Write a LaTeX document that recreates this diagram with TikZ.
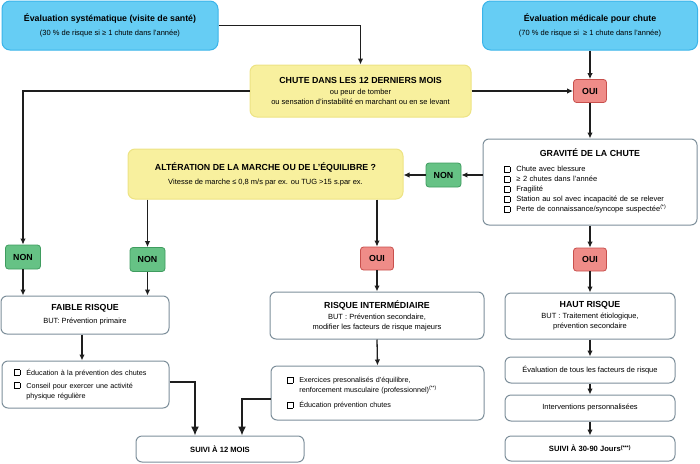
\documentclass[tikz,border=0pt]{standalone}
\usepackage{fontspec}
\setmainfont{Liberation Sans}
\usetikzlibrary{arrows.meta}

\definecolor{bleufill}{HTML}{66CDF4}
\definecolor{bleuline}{HTML}{3AB4EA}
\definecolor{jaunefill}{HTML}{F8F09E}
\definecolor{jauneline}{HTML}{EDE384}
\definecolor{vertfill}{HTML}{66C285}
\definecolor{vertline}{HTML}{3F9C5F}
\definecolor{rougefill}{HTML}{EF8C88}
\definecolor{rougeline}{HTML}{C8504D}
\definecolor{grisline}{HTML}{7D8F9B}
\definecolor{trait}{HTML}{1E1E1E}

\newcommand{\cbox}{{\fboxsep=0pt\fboxrule=0.7pt\fbox{\rule{0pt}{5pt}\hspace{5pt}}}}
\newcommand{\titre}{\fontsize{8.8}{10}\selectfont\bfseries}
\newcommand{\petit}{\fontsize{7.5}{10}\selectfont}
\newcommand{\liste}{\fontsize{7.2}{10}\selectfont}

\tikzset{
  bleu/.style={draw=bleuline, fill=bleufill, line width=1pt, rounded corners=8pt,
    align=center, inner sep=0pt, font=\petit},
  jaune/.style={draw=jauneline, fill=jaunefill, line width=1pt, rounded corners=7pt,
    align=center, inner sep=0pt, font=\petit},
  blanc/.style={draw=grisline, fill=white, line width=1pt, rounded corners=6pt,
    align=center, inner sep=0pt, font=\petit},
  oui/.style={draw=rougeline, fill=rougefill, line width=0.8pt, rounded corners=3pt,
    font=\titre, minimum width=33pt, minimum height=23pt, inner sep=0pt},
  non/.style={draw=vertline, fill=vertfill, line width=0.8pt, rounded corners=3pt,
    font=\titre, minimum width=35pt, minimum height=24pt, inner sep=0pt},
  fleche/.style={draw=trait, line width=1.3pt, -{Latex[length=6pt,width=5.5pt]}},
  grandefleche/.style={draw=trait, line width=1.4pt, -{Latex[length=9pt,width=8pt]}},
}

\begin{document}
\begin{tikzpicture}[x=1pt,y=-1pt]
\useasboundingbox (0,0) rectangle (700,463);

% haut
\node[bleu, minimum width=216pt, minimum height=49pt] (evalsys) at (110,25.5)
  {{\titre Évaluation systématique (visite de santé)}\\[4pt](30 \% de risque si ≥ 1 chute dans l’année)};
\node[bleu, minimum width=215pt, minimum height=49pt] (evalmed) at (590,25.5)
  {{\titre Évaluation médicale pour chute}\\[4pt](70 \% de risque si \ ≥ 1 chute dans l’année)};
\node[jaune, minimum width=221pt, minimum height=52pt] (chute) at (360.5,91)
  {{\titre CHUTE DANS LES 12 DERNIERS MOIS}\\[1pt]ou peur de tomber\\ou sensation d’instabilité en marchant ou en se levant};
\node[oui] (ouihaut) at (590,91) {OUI};

% gravite
\node[blanc, minimum width=214pt, minimum height=86pt, text width=172pt, align=left] (gravite) at (590,182)
  {\makebox[172pt][c]{\titre GRAVITÉ DE LA CHUTE}\\[7pt]
   \begin{tabular}{@{}l@{\hspace{6pt}}l@{}}
   \cbox & Chute avec blessure\\
   \cbox & ≥ 2 chutes dans l’année\\
   \cbox & Fragilité\\
   \cbox & Station au sol avec incapacité de se relever\\
   \cbox & Perte de connaissance/syncope suspectée\textsuperscript{(*)}
   \end{tabular}};
\node[non] (nonmil) at (443.5,175) {NON};
\node[jaune, minimum width=275pt, minimum height=50pt] (alteration) at (265.5,174)
  {{\titre ALTÉRATION DE LA MARCHE OU DE L’ÉQUILIBRE ?}\\[4pt]Vitesse de marche ≤ 0,8 m/s par ex. ou TUG >15 s.par ex.};

% reponses
\node[non] (nongauche) at (23,257) {NON};
\node[non] (noncentre) at (147.5,259.5) {NON};
\node[oui] (ouicentre) at (377,258.5) {OUI};
\node[oui] (ouidroite) at (590,259.5) {OUI};

% niveaux de risque
\node[blanc, minimum width=168pt, minimum height=38pt] (faible) at (85,315)
  {{\titre FAIBLE RISQUE}\\[3pt]BUT: Prévention primaire};
\node[blanc, minimum width=214pt, minimum height=47pt] (interm) at (377,315.5)
  {{\titre RISQUE INTERMÉDIAIRE}\\[1pt]BUT : Prévention secondaire,\\modifier les facteurs de risque majeurs};
\node[blanc, minimum width=170pt, minimum height=46pt] (haut) at (590,316)
  {{\titre HAUT RISQUE}\\[1pt]BUT : Traitement étiologique,\\prévention secondaire};

% actions
\node[blanc, minimum height=47pt, text width=143pt, inner xsep=12pt, align=left, font=\liste] (faibleactions) at (85.5,384.5)
  {\begin{tabular}{@{}l@{\hspace{6pt}}l@{}}
   \cbox & Éducation à la prévention des chutes\\[3pt]
   \cbox & Conseil pour exercer une activité\\
         & physique régulière
   \end{tabular}};
\node[blanc, minimum height=54pt, text width=181pt, inner xsep=16pt, align=left, font=\liste] (intermactions) at (377.5,393)
  {\begin{tabular}{@{}l@{\hspace{6pt}}l@{}}
   \cbox & Exercices presonalisés d’équilibre,\\
         & renforcement musculaire (professionnel)\textsuperscript{(**)}\\[5pt]
   \cbox & Éducation prévention chutes
   \end{tabular}};
\node[blanc, minimum width=168pt, minimum height=26pt, font=\fontsize{7.6}{9}\selectfont\bfseries] (suividouze) at (220,449) {SUIVI À 12 MOIS};
\node[blanc, minimum width=170pt, minimum height=26pt] (evalfacteurs) at (590,370) {Évaluation de tous les facteurs de risque};
\node[blanc, minimum width=170pt, minimum height=26pt] (interventions) at (590,408) {Interventions personnalisées};
\node[blanc, minimum width=170pt, minimum height=25pt, font=\fontsize{7.6}{9}\selectfont\bfseries] (suivitrente) at (590,448.5)
  {SUIVI À 30-90 Jours\textsuperscript{(***)}};

% connecteurs
\draw[fleche] (evalsys.east) -| (chute.north);
\draw[fleche] (evalmed.south) -- (ouihaut.north);
\draw[fleche] (chute.east) -- (ouihaut.west);
\draw[fleche] (ouihaut.south) -- (gravite.north);
\draw[fleche] (chute.west) -| (nongauche.north);
\draw[fleche] (nonmil -| gravite.west) -- (nonmil.east);
\draw[fleche] (nonmil.west) -- (nonmil -| alteration.east);
\draw[fleche] (noncentre |- alteration.south) -- (noncentre.north);
\draw[fleche] (ouicentre |- alteration.south) -- (ouicentre.north);
\draw[fleche] (gravite.south) -- (ouidroite.north);
\draw[fleche] (nongauche.south) -- (nongauche |- faible.north);
\draw[fleche] (noncentre.south) -- (noncentre |- faible.north);
\draw[fleche] (ouicentre.south) -- (interm.north);
\draw[fleche] (ouidroite.south) -- (haut.north);
\draw[fleche] ([xshift=-3pt]faible.south) -- ([xshift=-3.5pt]faibleactions.north);
\draw[fleche] (interm.south) -- (intermactions.north);
\draw[fleche] (haut.south) -- (evalfacteurs.north);
\draw[fleche] (evalfacteurs.south) -- (interventions.north);
\draw[fleche] (interventions.south) -- (suivitrente.north);
\draw[grandefleche] ([yshift=2.5pt]faibleactions.east) -| ([xshift=-25pt]suividouze.north);
\draw[grandefleche] ([yshift=-6pt]intermactions.west) -| ([xshift=22pt]suividouze.north);
\end{tikzpicture}
\end{document}
